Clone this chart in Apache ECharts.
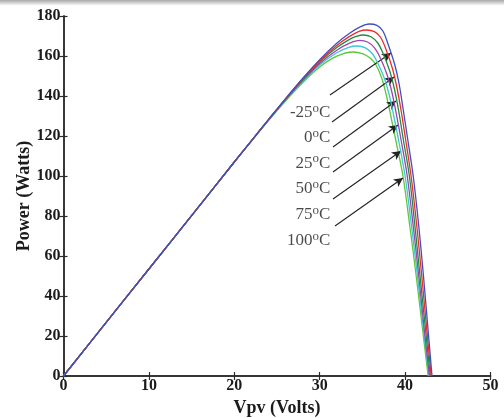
<!DOCTYPE html>
<html>
<head>
<meta charset="utf-8">
<script src="https://cdn.jsdelivr.net/npm/echarts@6/dist/echarts.min.js"></script>
<style>
  html, body { margin: 0; padding: 0; background: #ffffff; }
  #chart { width: 504px; height: 418px; }
</style>
</head>
<body>
<div id="chart"></div>
<script>
// P-V characteristics of a PV module at six cell temperatures
const temperatures = ['-25', '0', '25', '50', '75', '100'];
const xTicks = [0, 10, 20, 30, 40, 50];
const yTicks = [0, 20, 40, 60, 80, 100, 120, 140, 160, 180];

// shared linear region (voltage, power)
const risingPart = [[0, 0], [5, 26.8], [10, 53.5], [15, 80.2], [20, 107]];

const curveM25 = [[22, 117.6], [24, 128.2], [26, 138.7], [28, 148.8], [30, 158.2], [32, 166.4], [33.5, 171.4], [34.8, 174.7], [35.8, 176], [36.7, 175.3], [37.4, 172.5], [38.0, 166], [38.8, 155.5], [39.3, 146], [39.75, 134], [40.3, 118.5], [40.95, 100], [41.6, 75], [42.15, 50], [42.65, 25], [43.15, 0]];
const curve0 = [[22, 117.6], [24, 128.2], [26, 138.6], [28, 148.5], [30, 157.6], [32, 165.3], [33.5, 169.8], [34.6, 172.3], [35.5, 173], [36.4, 172.2], [37.1, 169.5], [37.7, 164], [38.5, 154], [39.0, 145], [39.5, 133.5], [40.05, 118.5], [40.7, 100], [41.37, 75], [41.95, 50], [42.5, 25], [43.05, 0]];
const curve25 = [[22, 117.6], [24, 128.1], [26, 138.4], [28, 148.1], [30, 157], [32, 164.2], [33.5, 168.3], [34.3, 169.8], [35.1, 170.5], [36.0, 169.6], [36.8, 166.5], [37.4, 161.5], [38.2, 152.5], [38.75, 143.5], [39.25, 132.5], [39.8, 118], [40.5, 100], [41.15, 75], [41.75, 50], [42.35, 25], [42.95, 0]];
const curve50 = [[22, 117.5], [24, 128], [26, 138.2], [28, 147.7], [30, 156.3], [32, 162.9], [33.5, 166.4], [34.7, 167.8], [35.6, 167], [36.4, 164.2], [37.1, 159], [37.9, 150.5], [38.45, 142], [38.95, 131.5], [39.55, 117.5], [40.25, 100], [40.95, 75], [41.6, 50], [42.2, 25], [42.85, 0]];
const curve75 = [[22, 117.5], [24, 127.9], [26, 137.9], [28, 147.2], [30, 155.5], [32, 161.6], [33.4, 164.3], [34.4, 165], [35.3, 164.2], [36.1, 161.5], [36.8, 156.5], [37.6, 148.5], [38.15, 140.5], [38.65, 130.5], [39.3, 116.5], [40.0, 100], [40.75, 75], [41.45, 50], [42.1, 25], [42.78, 0]];
const curve100 = [[22, 117.4], [24, 127.7], [26, 137.5], [28, 146.6], [30, 154.5], [32, 159.9], [33.9, 162], [35.0, 161.2], [35.9, 159], [36.6, 155.5], [37.3, 148.5], [37.85, 139.5], [38.35, 129.5], [39.0, 116], [39.75, 100], [40.55, 75], [41.3, 50], [42.0, 25], [42.7, 0]];

const curves = [curveM25, curve0, curve25, curve50, curve75, curve100];
const curveColors = ['#3d4fc4', '#f22a2a', '#1f8a40', '#9b45ae', '#3cc6d6', '#5cc63c'];

// annotation text anchors (right edge) and arrow start / end points, in data units
const labelPoints = [[31.25, 131.5], [31.25, 119], [31.25, 106.3], [31.25, 93.5], [31.25, 80.7], [31.25, 67.5]];
const arrowStarts = [[31.2, 140.5], [31.44, 127], [31.56, 114.5], [31.56, 102], [31.56, 88.5], [31.79, 75]];
const arrowEnds = [[38.35, 161.5], [38.7, 149.5], [38.93, 137.5], [39.17, 125.5], [39.52, 112.5], [39.75, 99]];

const serif = '"Liberation Serif", "DejaVu Serif", serif';
const inkColor = '#1b1b1b';

const series = curves.map((pts, i) => ({
  type: 'line',
  name: temperatures[i] + '°C',
  data: risingPart.concat(pts),
  showSymbol: false,
  smooth: 0.35,
  lineStyle: { color: curveColors[i], width: 1.3 },
  z: 3 + (curves.length - i)
}));

// temperature labels
series.push({
  type: 'scatter',
  data: labelPoints.map((p, i) => ({ value: p, temp: temperatures[i] })),
  symbolSize: 0,
  silent: true,
  label: {
    show: true,
    position: 'left',
    distance: 0,
    formatter: (p) => '{t|' + p.data.temp + '}{o|o}{t|C}',
    rich: {
      t: { fontFamily: serif, fontSize: 17, color: inkColor },
      o: { fontFamily: serif, fontSize: 13, color: inkColor, padding: [0, 0, 9, 0] }
    }
  },
  z: 10
});

// arrows from labels to curves
series.push({
  type: 'line',
  data: [],
  silent: true,
  markLine: {
    silent: true,
    symbol: ['none', 'arrow'],
    symbolSize: [7, 9],
    label: { show: false },
    lineStyle: { color: '#222222', width: 1.1, type: 'solid' },
    data: arrowStarts.map((s, i) => [{ coord: s }, { coord: arrowEnds[i] }])
  },
  z: 11
});

const tickLabelStyle = { fontFamily: serif, fontSize: 16, fontWeight: 'bold', color: inkColor };
const frameLine = { show: true, lineStyle: { color: '#2a2a2a', width: 1.5 } };
const innerTicks = { show: true, inside: true, length: 4, lineStyle: { color: '#2a2a2a', width: 1.2 } };

const option = {
  animation: false,
  backgroundColor: '#ffffff',
  grid: { left: 63.5, right: 13.5, top: 16, bottom: 42, containLabel: false, outerBoundsMode: 'none' },
  graphic: [{
    type: 'rect',
    shape: { x: 0, y: 0, width: 504, height: 5 },
    style: {
      fill: {
        type: 'linear', x: 0, y: 0, x2: 0, y2: 1,
        colorStops: [{ offset: 0, color: '#a9a9a9' }, { offset: 1, color: '#f2f2f2' }]
      }
    },
    silent: true
  }],
  xAxis: [{
    type: 'value', min: 0, max: 50, interval: 10,
    axisLine: frameLine, axisTick: innerTicks, splitLine: { show: false },
    axisLabel: Object.assign({ margin: 2, formatter: (v) => xTicks.includes(v) ? String(v) : '' }, tickLabelStyle),
    name: 'Vpv (Volts)', nameLocation: 'middle', nameGap: 23, nameMoveOverlap: false,
    nameTextStyle: { fontFamily: serif, fontSize: 18, fontWeight: 'bold', color: inkColor }
  }, {
    type: 'value', min: 0, max: 50, interval: 10, position: 'top',
    axisLine: frameLine, axisTick: innerTicks, axisLabel: { show: false }, splitLine: { show: false }
  }],
  yAxis: [{
    type: 'value', min: 0, max: 180, interval: 20,
    axisLine: frameLine, axisTick: innerTicks, splitLine: { show: false },
    axisLabel: Object.assign({ margin: 3, formatter: (v) => yTicks.includes(v) ? String(v) : '' }, tickLabelStyle),
    name: 'Power (Watts)', nameLocation: 'middle', nameGap: 30, nameMoveOverlap: false,
    nameTextStyle: { fontFamily: serif, fontSize: 18, fontWeight: 'bold', color: inkColor }
  }, {
    type: 'value', min: 0, max: 180, interval: 20, position: 'right',
    axisLine: frameLine, axisTick: innerTicks, axisLabel: { show: false }, splitLine: { show: false }
  }],
  series: series
};

const chart = echarts.init(document.getElementById('chart'), null, { renderer: 'canvas' });
chart.setOption(option);
</script>
</body>
</html>
